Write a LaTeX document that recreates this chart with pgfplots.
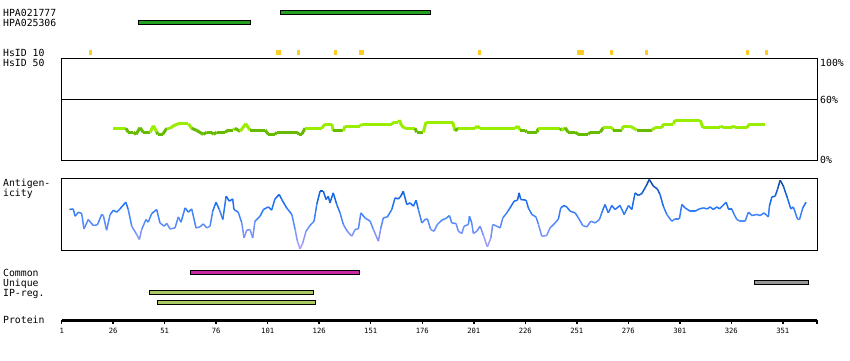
\documentclass[border=0pt]{standalone}
\usepackage{pgfplots}
\pgfplotsset{compat=1.18}
\usepackage{fontspec}
\newfontfamily\monof{DejaVu Sans Mono}
\newcommand{\lblfont}{\monof\fontsize{9.8}{10}\selectfont}
\newcommand{\tickfont}{\monof\fontsize{7.2}{8}\selectfont}
\definecolor{abgreen}{RGB}{34,160,34}
\definecolor{hsyellow}{RGB}{255,204,34}
\definecolor{commag}{RGB}{200,40,160}
\definecolor{uniqgrey}{RGB}{150,150,150}
\definecolor{ipgreen}{RGB}{170,200,100}
\newcommand{\rbox}[5]{\addplot[#5] coordinates {(#1,#3) (#2,#3) (#2,#4) (#1,#4)} -- cycle;}
\begin{document}
\begin{tikzpicture}
% ---------- master canvas (x = residue, y = pixel row) ----------
\begin{axis}[at={(0pt,0pt)}, anchor=south west, width=850pt, height=360pt, scale only axis,
  xmin=-28.95, xmax=383.67, ymin=0, ymax=360, y dir=reverse, hide axis, clip=false]
% antibodies
\rbox{107.0}{179.8}{10.3}{14.3}{draw=black, line width=0.8pt, fill=abgreen}
\rbox{38.2}{92.7}{20.0}{24.7}{draw=black, line width=0.8pt, fill=abgreen}
% HsID 10 marks
\rbox{14.3}{15.6}{50}{54.7}{draw=none, fill=hsyellow}
\rbox{105.0}{107.4}{50}{54.7}{draw=none, fill=hsyellow}
\rbox{115.2}{116.5}{50}{54.7}{draw=none, fill=hsyellow}
\rbox{133.2}{134.7}{50}{54.7}{draw=none, fill=hsyellow}
\rbox{145.3}{147.7}{50}{54.7}{draw=none, fill=hsyellow}
\rbox{203.1}{204.6}{50}{54.7}{draw=none, fill=hsyellow}
\rbox{251.2}{254.4}{50}{54.7}{draw=none, fill=hsyellow}
\rbox{267.2}{268.6}{50}{54.7}{draw=none, fill=hsyellow}
\rbox{284.2}{285.7}{50}{54.7}{draw=none, fill=hsyellow}
\rbox{333.2}{334.7}{50}{54.7}{draw=none, fill=hsyellow}
\rbox{342.4}{343.9}{50}{54.7}{draw=none, fill=hsyellow}
% Common / Unique / IP-reg
\rbox{63.4}{145.5}{270.3}{274.7}{draw=black, line width=0.8pt, fill=commag}
\rbox{337.2}{363.6}{280.3}{284.7}{draw=black, line width=0.8pt, fill=uniqgrey}
\rbox{43.5}{123.3}{290.3}{294.7}{draw=black, line width=0.8pt, fill=ipgreen}
\rbox{47.4}{124.3}{300.0}{304.7}{draw=black, line width=0.8pt, fill=ipgreen}
% labels
\begin{scope}[every node/.style={anchor=base west, inner sep=0pt, font=\lblfont}]
\node at (axis cs:-27.5,16.5) {HPA021777};
\node at (axis cs:-27.5,26.5) {HPA025306};
\node at (axis cs:-27.5,56) {HsID 10};
\node at (axis cs:-27.5,66) {HsID 50};
\node at (axis cs:-27.5,186) {Antigen-};
\node at (axis cs:-27.5,196) {icity};
\node at (axis cs:-27.5,276) {Common};
\node at (axis cs:-27.5,286) {Unique};
\node at (axis cs:-27.5,296) {IP-reg.};
\node at (axis cs:-27.5,323.3) {Protein};
\end{scope}
\node[anchor=north west, inner sep=0pt, font=\lblfont] at (axis cs:369.1,59.3) {100\%};
\node[anchor=west, inner sep=0pt, font=\lblfont] at (axis cs:369.1,100.2) {60\%};
\node[anchor=west, inner sep=0pt, font=\lblfont] at (axis cs:369.1,160.2) {0\%};
\end{axis}

% ---------- conservation panel ----------
\begin{axis}[at={(61.7pt,199.8pt)}, anchor=south west, width=755.3pt, height=101.5pt, scale only axis,
  xmin=1, xmax=367.6, ymin=0, ymax=100, xtick=\empty, ytick=\empty,
  axis line style={line width=1pt}, clip=false,
  colormap={cons}{rgb255(0)=(102,187,0) rgb255(30.5)=(153,238,0) rgb255(100)=(153,238,0)},
  colormap access=piecewise constant, point meta min=0, point meta max=100]
\draw[line width=1pt] (axis cs:1,60) -- (axis cs:367.6,60);
\addplot[mesh, shader=flat mean, point meta=y, line width=3pt] table {
26.0 31.4
32.2 31.4
33.3 27.5
35.8 27.5
37.1 25.5
39.0 32.0
40.6 27.5
43.9 27.5
45.5 33.9
47.1 28.0
47.7 25.5
50.0 25.5
52.0 31.4
53.6 31.4
55.2 33.9
57.6 35.9
62.5 35.9
64.1 31.4
66.5 29.4
69.7 25.5
71.4 27.5
73.8 27.5
74.6 25.5
76.2 27.5
80.3 27.5
81.9 29.7
84.3 29.7
85.1 31.4
87.6 28.4
90.3 35.9
92.4 29.7
99.7 29.7
101.3 25.5
104.5 25.5
105.4 27.5
115.1 27.5
116.3 25.5
117.5 25.5
119.1 31.4
127.2 31.4
128.8 35.6
132.1 35.6
132.8 29.0
137.7 29.0
138.5 33.6
145.8 33.6
146.6 35.3
161.2 35.3
162.0 37.3
164.4 37.3
164.9 39.5
166.0 33.9
167.6 31.4
172.5 31.4
173.3 27.5
176.5 27.5
177.8 37.3
190.8 37.3
191.9 29.0
193.5 31.4
201.6 31.4
202.7 33.6
204.0 31.4
221.0 31.4
222.4 33.6
223.5 29.7
225.9 29.7
226.7 27.5
231.6 27.5
232.4 31.4
242.9 31.4
243.7 29.4
245.3 32.0
246.9 27.5
250.2 27.5
251.8 25.5
256.6 25.5
257.5 27.5
262.3 27.5
263.9 32.0
268.0 32.0
268.8 29.7
272.8 29.7
273.6 33.6
276.9 33.6
280.1 29.7
287.4 29.7
289.0 32.0
292.3 32.0
293.0 35.6
297.9 35.6
298.7 39.5
310.9 39.5
312.2 32.0
320.6 32.0
320.9 33.9
321.9 32.0
326.2 32.0
327.0 33.9
327.8 32.0
333.5 32.0
334.8 35.6
342.4 35.6
};
\end{axis}

% ---------- antigenicity panel ----------
\begin{axis}[at={(61.7pt,109.8pt)}, anchor=south west, width=755.3pt, height=72pt, scale only axis,
  xmin=1, xmax=367.6, ymin=0, ymax=72, xtick=\empty, ytick=\empty,
  axis line style={line width=1pt}, clip=false,
  colormap={ant}{rgb255(0)=(190,165,250) rgb255(18)=(120,145,250) rgb255(32)=(70,135,250) rgb255(48)=(25,110,240) rgb255(60)=(15,90,200) rgb255(72)=(10,65,150)},
  point meta min=0, point meta max=72]
\addplot[mesh, shader=flat mean, point meta=y, line width=1.5pt] table {
4.7 40.7
6.6 41.3
7.5 34
9.1 38
10.7 36.7
11.8 21.3
13.9 30.7
16.3 24.7
18.3 25.3
20.4 35.7
21.2 34.7
22.8 20
24.5 35.7
26.1 40
27.7 38
29.3 41.3
32.1 48
33.3 40.7
35.0 24
37.4 15.7
38.7 10.7
39.8 20.7
41.9 30.7
43.0 28
44.7 36.7
47.1 40.7
48.7 27.3
50.7 24
52.0 26.7
53.6 21.3
56.0 22.3
57.6 33.3
58.9 28
60.9 42.3
62.5 38
64.1 41.3
66.2 22.3
68.1 23.3
69.7 26.3
71.4 22.3
73.0 24
74.3 39
75.9 48
77.5 40.7
79.2 30.7
80.8 54
82.4 49
84.0 51.3
84.6 40.7
86.7 38
88.4 27.3
89.5 12.3
90.8 20
92.4 20.7
93.7 12.3
94.8 29
97.3 34
98.9 40.7
101.3 43.3
102.9 40
104.5 51.3
106.6 55.7
107.8 50.7
110.2 42.3
112.7 35.7
114.3 20.7
115.4 9
116.7 1.3
118.0 7.3
119.6 19
121.5 24.7
123.5 29
124.8 45.7
126.4 59
128.0 59
129.3 50.7
130.4 54
131.2 47.3
132.8 57.3
134.5 45.7
136.1 37.3
137.7 25.7
139.6 19
141.8 14
143.4 20.7
145.0 21.3
146.2 37.3
148.2 32.3
150.7 29
152.3 20.7
154.7 9
155.9 22.3
157.1 32.3
159.1 33.3
161.2 40.7
162.8 52.3
164.4 51.3
165.6 54
166.8 59
168.5 45.7
170.1 47.3
171.7 44
173.0 50
174.1 40.7
175.8 27.3
177.4 30.7
178.5 31.3
180.1 20.7
181.7 19
183.3 25.7
185.5 30
187.9 32.3
189.2 34.7
190.3 27.3
192.4 26.7
193.5 19
195.2 16.7
196.3 24
198.4 25.7
198.9 34
200.0 27.3
200.8 16.7
202.5 19
204.1 24
205.7 14.7
207.6 3.3
209.3 12.3
210.2 25.7
212.2 24
213.8 22.3
215.1 32.3
217.0 37.3
218.6 42.3
220.6 49
222.2 50
223.0 57.3
223.8 50.7
226.4 50
227.5 42.3
229.2 35.7
231.2 33.3
232.4 25.7
234.0 14
236.4 14.7
238.0 22.3
240.5 27.3
242.1 31.3
243.2 42.3
244.8 44.7
246.1 43.3
247.8 39
250.2 37.3
251.8 32.3
253.9 24.7
255.9 23.3
257.8 29
259.9 27.3
262.0 30.7
263.1 37.3
264.7 45.7
266.3 37.3
268.0 44.7
269.6 40.7
272.0 44.7
274.0 35.7
276.1 44.7
277.7 40.7
279.3 57.3
280.9 54.7
282.6 56.7
284.6 64
286.2 70.7
288.2 64
290.1 61.3
291.4 55.7
293.0 44
294.7 35.7
297.1 29
298.7 31.3
300.8 31.3
302.0 45.7
303.6 42.3
306.0 39
308.4 39
310.5 41.3
312.5 42.3
314.4 41.3
315.7 43.3
317.3 40.7
319.0 43.3
320.2 41.3
321.9 44.7
323.5 48
324.6 41.3
326.2 41.3
327.4 35.7
328.7 30.7
330.3 29
332.7 29
334.3 38
336.0 34.7
338.4 35.7
340.0 34.7
341.9 37.3
344.0 33.3
344.5 44
345.7 53.3
347.3 54
348.4 60.7
349.7 70
351.3 64
353.2 52.3
354.9 41.3
356.1 43.3
358.1 31.3
359.1 30.7
360.7 42.3
362.3 48
};
\end{axis}

% ---------- protein axis ----------
\begin{axis}[at={(61.7pt,40pt)}, anchor=south west, width=755.3pt, height=10pt, scale only axis,
  xmin=1, xmax=367.6, ymin=0, ymax=1, axis x line=bottom, axis y line=none,
  axis line style={-, line width=3pt},
  xtick={1,26,...,351}, extra x ticks={367.6}, extra x tick labels={},
  tick align=outside, major tick length=3.5pt, tick style={line width=1.5pt, black},
  xticklabel style={font=\tickfont, inner sep=0pt, yshift=-4.8pt},
  /pgf/number format/assume math mode=true]
\end{axis}
\pgfresetboundingbox
\path[use as bounding box] (0pt,0pt) rectangle (850pt,360pt);
\end{tikzpicture}
\end{document}
